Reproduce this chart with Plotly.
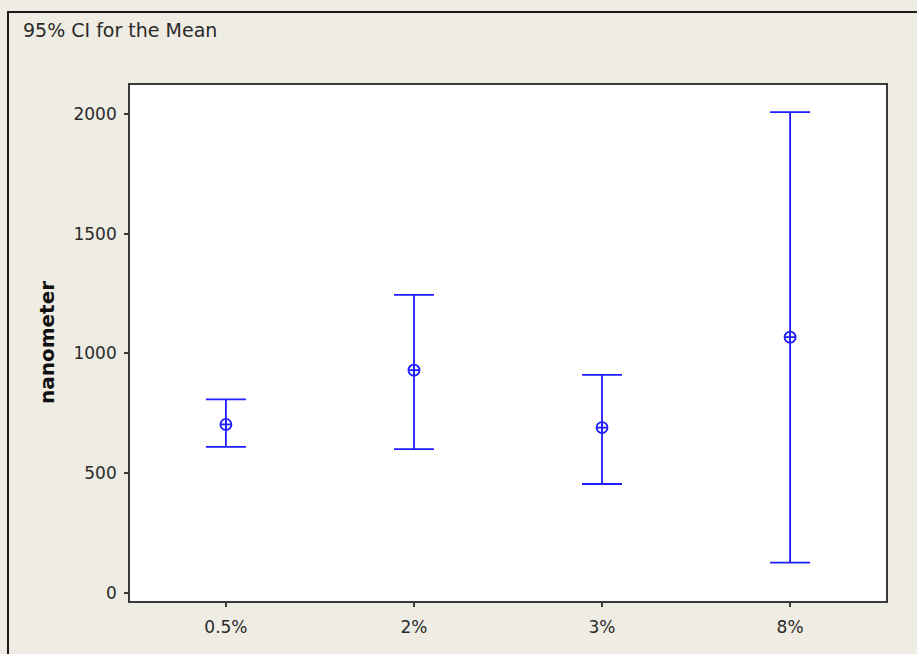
import plotly.graph_objects as go

# Interval plot: mean with 95% confidence interval per concentration
groups = ["0.5%", "2%", "3%", "8%"]
mean_nm = [703, 930, 690, 1068]
ci_upper = [808, 1245, 910, 2009]
ci_lower = [609, 600, 454, 125]
y_ticks = [0, 500, 1000, 1500, 2000]

BLUE = "#1E1EFF"
BG = "#EFECE3"
INK = "#2A2A2A"
FONT = "DejaVu Sans"

err_plus = [u - m for u, m in zip(ci_upper, mean_nm)]
err_minus = [m - l for m, l in zip(mean_nm, ci_lower)]

fig = go.Figure(
    go.Scatter(
        x=groups,
        y=mean_nm,
        mode="markers",
        marker=dict(symbol="circle-cross-open", size=11, color=BLUE,
                    line=dict(color=BLUE, width=1.8)),
        error_y=dict(type="data", symmetric=False, array=err_plus,
                     arrayminus=err_minus, width=20, thickness=1.8, color=BLUE),
        showlegend=False,
        hoverinfo="skip",
    )
)

W, H = 917, 654
L, R, T, B = 130, 31, 85, 53
pw, ph = W - L - R, H - T - B


def px_x(x):
    return (x - L) / pw


def px_y(y):
    return (H - B - y) / ph


axis_common = dict(
    showgrid=False,
    zeroline=False,
    showline=True,
    mirror=True,
    linecolor="#3A3A3A",
    linewidth=1.7,
    ticks="outside",
    ticklen=4,
    tickcolor="#3A3A3A",
    tickwidth=1.5,
    tickfont=dict(family=FONT, size=17, color=INK),
)

fig.update_layout(
    width=W,
    height=H,
    margin=dict(l=L, r=R, t=T, b=B, pad=0),
    paper_bgcolor=BG,
    plot_bgcolor="white",
    font=dict(family=FONT, size=17, color=INK),
    xaxis=dict(type="category", range=[-0.51, 3.51], ticklabelstandoff=6,
               **axis_common),
    yaxis=dict(range=[-35, 2122], tickvals=y_ticks, ticklabelstandoff=4,
               **axis_common),
    shapes=[
        # outer frame of the graph window
        dict(type="rect", xref="paper", yref="paper",
             x0=px_x(8), x1=px_x(930), y0=px_y(670), y1=px_y(12),
             line=dict(color="#1A1A1A", width=2), fillcolor="rgba(0,0,0,0)",
             layer="below"),
    ],
    annotations=[
        dict(text="95% CI for the Mean", xref="paper", yref="paper",
             x=px_x(21), y=px_y(30), xanchor="left", yanchor="middle",
             showarrow=False, font=dict(family=FONT, size=19, color=INK)),
        dict(text="nanometer", xref="paper", yref="paper",
             x=px_x(47), y=px_y(343), xanchor="center", yanchor="middle",
             textangle=-90, showarrow=False,
             font=dict(family=FONT, size=20, color="#111111", weight="bold")),
    ],
)

fig.write_html("out.html")
